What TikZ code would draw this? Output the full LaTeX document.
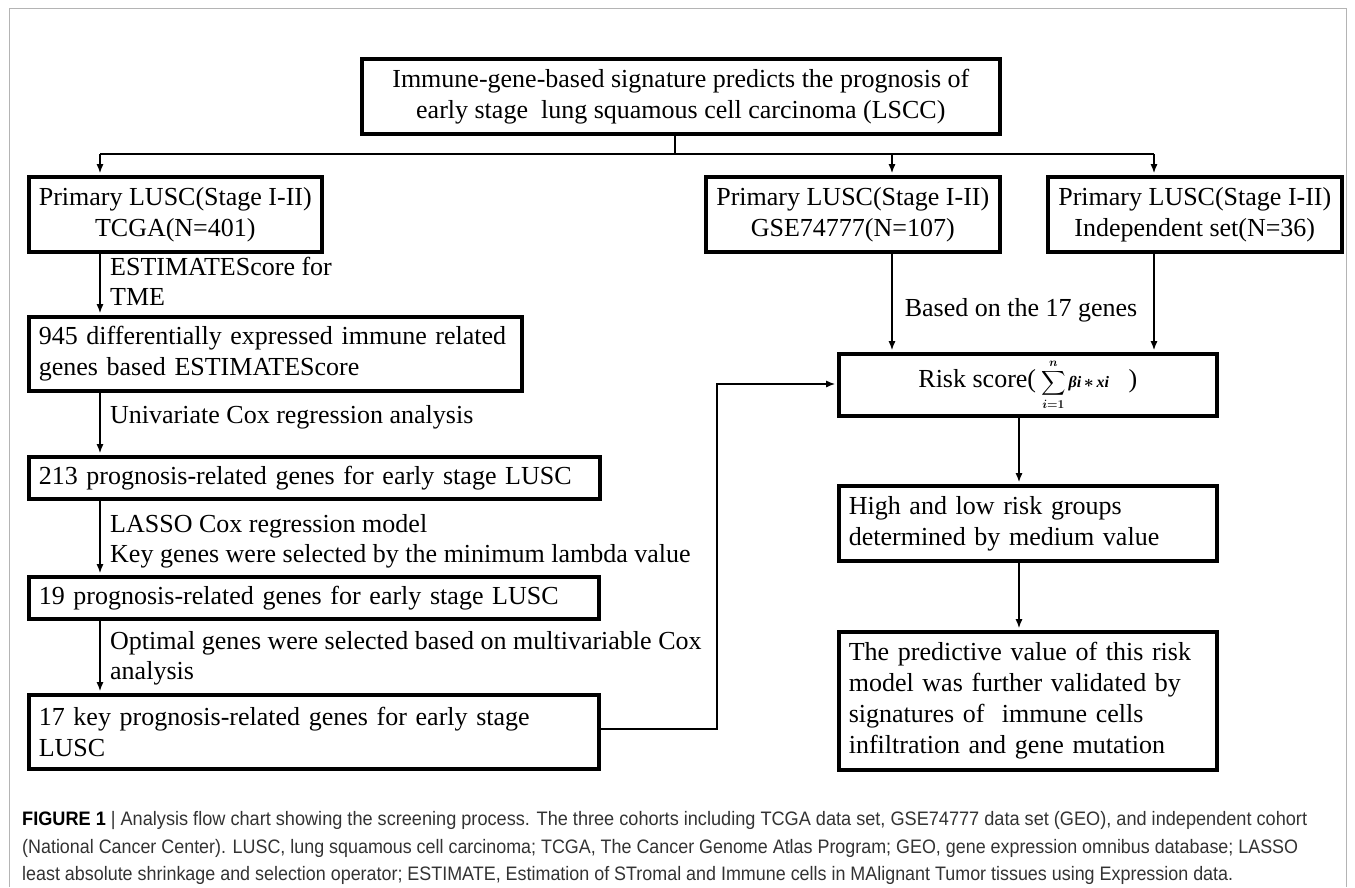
\documentclass[tikz,border=0pt]{standalone}
\usepackage{fontspec}
\setmainfont{Liberation Serif}
\newfontfamily\capfont{Liberation Sans}
\usepackage{amsmath,amssymb}
\usepackage{graphicx}
\usetikzlibrary{arrows.meta}
\definecolor{capgray}{HTML}{333333}
\definecolor{framegray}{HTML}{B4B4B4}
\tikzset{
  box/.style={draw=black, line width=3.6pt, anchor=north west, inner xsep=10pt, inner ysep=0pt,
    font=\fontsize{26}{31}\selectfont},
  cbox/.style={box, align=center},
  lbox/.style={box, align=left},
  conn/.style={line width=1.5pt, draw=black},
  arr/.style={conn, -{Latex[length=9pt,width=7pt]}, shorten >=1.8pt},
  lab/.style={anchor=west, align=left, inner sep=0pt, font=\fontsize{26}{30}\selectfont},
  captext/.style={anchor=west, inner sep=0pt, text=capgray, font=\capfont\fontsize{19.5}{22}\selectfont}
}
\begin{document}
\begin{tikzpicture}[x=1pt,y=-1pt]
\useasboundingbox (0,0) rectangle (1355,887);
\fill[white] (0,0) rectangle (1355,887);
\draw[framegray, line width=1pt] (9,887) -- (9,8) -- (1346,8) -- (1346,887);

% top box
\node[cbox, minimum width=638pt, minimum height=75pt] (top) at (360,57)
  {Immune-gene-based signature predicts the prognosis of\\early stage\ \ lung squamous cell carcinoma (LSCC)};

% cohort boxes
\node[cbox, minimum width=293pt, minimum height=75pt] (l1) at (27,175)
  {Primary LUSC(Stage I-II)\\TCGA(N=401)};
\node[cbox, minimum width=294pt, minimum height=75pt] (m1) at (704,175)
  {Primary LUSC(Stage I-II)\\GSE74777(N=107)};
\node[cbox, minimum width=294pt, minimum height=75pt] (r1) at (1046,175)
  {Primary LUSC(Stage I-II)\\Independent set(N=36)};

% left column
\node[lbox, text width=473pt, minimum height=74pt] (l2) at (27,315)
  {945 differentially expressed immune related\\genes based ESTIMATEScore};
\node[lbox, text width=551pt, minimum height=42pt] (l3) at (27,455)
  {213 prognosis-related genes for early stage LUSC};
\node[lbox, text width=550pt, minimum height=42pt] (l4) at (27,575)
  {19 prognosis-related genes for early stage LUSC};
\node[lbox, text width=550pt, minimum height=74pt] (l5) at (27,693)
  {17 key prognosis-related genes for early stage\\LUSC};

% right column
\node[cbox, minimum width=378pt, minimum height=62pt] (risk) at (837,352)
  {Risk score(\hspace{5pt}{\fontsize{17}{17}\selectfont\boldmath$\displaystyle\sum_{i=1}^{n}$}\hspace{3pt}{\fontsize{16}{16}\selectfont\bfseries\itshape βi\,{\boldmath$\ast$}\,xi}\ \ \ )};
\node[lbox, text width=358pt, minimum height=75pt] (high) at (837,484)
  {High and low risk groups\\determined by medium value};
\node[lbox, text width=358pt, minimum height=138pt] (final) at (837,630)
  {The predictive value of this risk\\model was further validated by\\signatures of\ \ immune cells\\infiltration and gene mutation};

% labels
\node[lab] (lb1) at (110,281) {ESTIMATEScore for\\TME};
\node[lab] (lb2) at (110,417) {Univariate Cox regression analysis};
\node[lab] (lb3) at (110,541) {LASSO Cox regression model\\Key genes were selected by the minimum lambda value};
\node[lab] (lb4) at (110,658) {Optimal genes were selected based on multivariable Cox\\analysis};
\node[lab, anchor=center] (lb5) at (1021,310) {Based on the 17 genes};

% connectors from top
\coordinate (hub) at (675,154);
\coordinate (hl) at (100,154);
\coordinate (hr) at (1154,154);
\draw[conn] (675,0 |- top.south) -- (hub);
\draw[conn] (hl) -- (hr);
\draw[arr] (hl) -- (100,0 |- l1.north);
\draw[arr] (892,154) -- (892,0 |- m1.north);
\draw[arr] (hr) -- (1154,0 |- r1.north);

% left chain
\draw[arr] (100,0 |- l1.south) -- (100,0 |- l2.north);
\draw[arr] (100,0 |- l2.south) -- (100,0 |- l3.north);
\draw[arr] (100,0 |- l3.south) -- (100,0 |- l4.north);
\draw[arr] (100,0 |- l4.south) -- (100,0 |- l5.north);

% right chain
\draw[arr] (892,0 |- m1.south) -- (892,0 |- risk.north);
\draw[arr] (1154,0 |- r1.south) -- (1154,0 |- risk.north);
\draw[arr] (l5.east |- 0,729) -- (717,729) -- (717,384) -- (risk.west |- 0,384);
\draw[arr] (1019,0 |- risk.south) -- (1019,0 |- high.north);
\draw[arr] (1019,0 |- high.south) -- (1019,0 |- final.north);

% caption
\node[captext] (c1) at (22,820) {\resizebox{1285pt}{\height}{\textbf{\color{black}FIGURE 1} | Analysis flow chart showing the screening process. The three cohorts including TCGA data set, GSE74777 data set (GEO), and independent cohort}};
\node[captext] (c2) at (22,848) {\resizebox{1276pt}{\height}{(National Cancer Center). LUSC, lung squamous cell carcinoma; TCGA, The Cancer Genome Atlas Program; GEO, gene expression omnibus database; LASSO}};
\node[captext] (c3) at (22,875) {\resizebox{1211pt}{\height}{least absolute shrinkage and selection operator; ESTIMATE, Estimation of STromal and Immune cells in MAlignant Tumor tissues using Expression data.}};
\end{tikzpicture}
\end{document}
